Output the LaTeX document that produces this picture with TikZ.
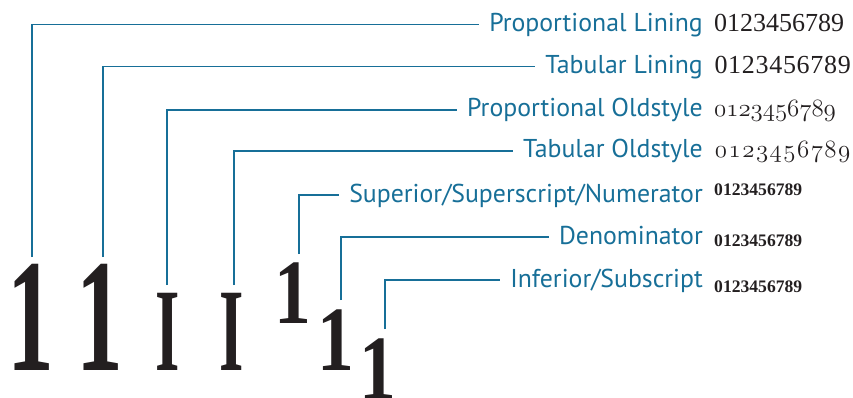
\documentclass[tikz,border=0pt]{standalone}
\usepackage{fontspec}
\usepackage{graphicx}
\setmainfont{Latin Modern Roman}
\newfontfamily\labelfont{PT Sans}
\newfontfamily\glyphfont{Liberation Serif}
\definecolor{lead}{RGB}{23,111,152}
\definecolor{ink}{RGB}{35,31,32}
\newcommand\osf{\usefont{OML}{lmm}{m}{it}}
\tikzset{
  leader/.style={draw=lead, line width=1.1pt},
  lab/.style={anchor=base east, inner sep=0pt, text=lead,
    font=\labelfont\fontsize{25.8}{25.8}\selectfont, text height=14pt, text depth=0pt},
  nums/.style={anchor=base west, inner sep=0pt, text=ink},
  big/.style={anchor=base, inner sep=0pt, text=ink},
}
\begin{document}
\begin{tikzpicture}[x=1pt,y=-1pt]
\useasboundingbox (0,0) rectangle (853,398);
% big glyphs
\node[big, font=\glyphfont\bfseries\fontsize{161}{161}\selectfont] (g1) at (30.5,370) {\scalebox{0.58}[1]{1}};
\node[big, font=\glyphfont\bfseries\fontsize{161}{161}\selectfont] (g2) at (99.5,370) {\scalebox{0.58}[1]{1}};
\node[big, font=\glyphfont\bfseries\fontsize{118}{118}\selectfont] (g3) at (167.5,370) {\scalebox{0.53}[1]{I}};
\node[big, font=\glyphfont\bfseries\fontsize{118}{118}\selectfont] (g4) at (232,370) {\scalebox{0.53}[1]{I}};
\node[big, font=\glyphfont\bfseries\fontsize{92}{92}\selectfont] (g5) at (293,323) {\scalebox{0.8}[1]{1}};
\node[big, font=\glyphfont\bfseries\fontsize{92}{92}\selectfont] (g6) at (336,370) {\scalebox{0.8}[1]{1}};
\node[big, font=\glyphfont\bfseries\fontsize{92}{92}\selectfont] (g7) at (378,399) {\scalebox{0.8}[1]{1}};
% labels
\node[lab] (l1) at (703,31.7) {Proportional Lining};
\node[lab] (l2) at (703,73.5) {Tabular Lining};
\node[lab] (l3) at (703,117) {Proportional Oldstyle};
\node[lab] (l4) at (703,158) {Tabular Oldstyle};
\node[lab] (l5) at (703,202) {Superior/Superscript/Numerator};
\node[lab] (l6) at (703,244) {Denominator};
\node[lab] (l7) at (703,287) {Inferior/Subscript};
% samples
\node[nums, font=\glyphfont\fontsize{26}{26}\selectfont] (n1) at (714,32) {0123456789};
\node[nums, font=\glyphfont\fontsize{26}{26}\selectfont] (n2) at (714,74) {\foreach \d in {0,...,9}{\makebox[13.7pt]{\d}}};
\node[nums, font=\osf\fontsize{24.5}{24.5}\selectfont] (n3) at (714,117) {0123456789};
\node[nums, font=\osf\fontsize{24.5}{24.5}\selectfont] (n4) at (714,158) {\foreach \d in {0,...,9}{\makebox[13.7pt]{\d}}};
\node[nums, font=\glyphfont\bfseries\fontsize{17.6}{17.6}\selectfont] (n5) at (714,195) {0123456789};
\node[nums, font=\glyphfont\bfseries\fontsize{17.6}{17.6}\selectfont] (n6) at (714,246) {0123456789};
\node[nums, font=\glyphfont\bfseries\fontsize{17.6}{17.6}\selectfont] (n7) at (714,292) {0123456789};
% leader start points
\coordinate (s1) at (32,257);
\coordinate (s2) at (103,257);
\coordinate (s3) at (167,285);
\coordinate (s4) at (234,285);
\coordinate (s5) at (299,254);
\coordinate (s6) at (341,300);
\coordinate (s7) at (385,329);
\foreach \i in {1,...,7}{
  \draw[leader] (s\i) |- ([xshift=-10pt]l\i.west);
}
\end{tikzpicture}
\end{document}
